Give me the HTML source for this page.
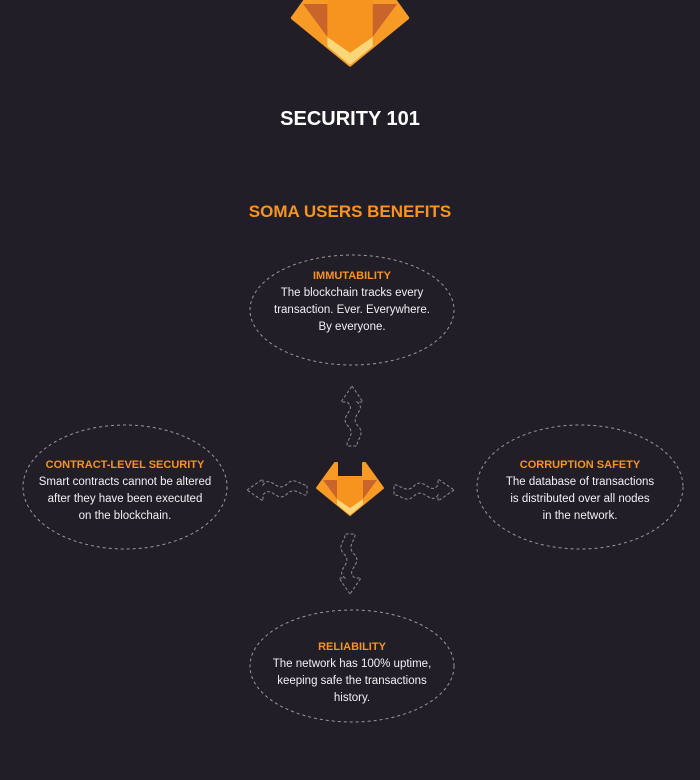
<!DOCTYPE html>
<html><head><meta charset="utf-8"><style>
html,body{margin:0;padding:0;background:#211e27;}
body{width:700px;height:780px;position:relative;overflow:hidden;font-family:"Liberation Sans",sans-serif;}
.t{position:absolute;left:0;width:700px;text-align:center;font-weight:bold;}
.b{position:absolute;text-align:center;color:#f2f0f3;font-size:11.5px;line-height:17px;}
.b h4{margin:0;color:#f7931e;font-size:11px;font-weight:bold;line-height:17px;}
</style></head><body>
<svg width="700" height="780" style="position:absolute;left:0;top:0">
<defs>
<g id="fox">
<path d="M0,25 L18,0 L20,0 L20,14 L46,14 L46,0 L48,0 L66,25 L33,52 Z" fill="#f89b26" stroke="#f89b26" stroke-width="2" stroke-linejoin="round"/>
<polygon points="6,17 20,17 20,36" fill="#c9652a"/>
<polygon points="60,17 46,17 46,36" fill="#c9652a"/>
<polygon points="20,36 33,45 46,36 46,41.4 33,52 20,41.4" fill="#fbd77a"/>
<polygon points="20,14 46,14 46,36 33,45 20,36" fill="#f7941f"/>
</g>
<path id="arr" d="M0,0 L11,16 L5,16 C16,24 -4,30 6,40 C14,48 4,54 5,60 L-5,60 C-6,54 4,48 -4,40 C-14,30 6,24 -5,16 L-11,16 Z" fill="none" stroke="#8d8a93" stroke-width="1" stroke-dasharray="3 2"/>
</defs>
<use href="#fox" transform="translate(292.6,-25.6) scale(1.74)"/>
<use href="#fox" transform="translate(317,463)"/>
<g fill="none" stroke="#9a97a0" stroke-width="1" stroke-dasharray="3 3">
<ellipse cx="352" cy="310" rx="102" ry="55"/>
<ellipse cx="125" cy="487" rx="102" ry="62"/>
<ellipse cx="580" cy="487" rx="103" ry="62"/>
<ellipse cx="352" cy="666" rx="102" ry="56"/>
</g>
<use href="#arr" transform="translate(352,386)"/>
<use href="#arr" transform="translate(350,594) rotate(180)"/>
<use href="#arr" transform="translate(247,490) rotate(-90)"/>
<use href="#arr" transform="translate(454,490) rotate(90)"/>
</svg>
<div class="t" style="top:108px;color:#fff;font-size:20px;">SECURITY 101</div>
<div class="t" style="top:202px;color:#f7931e;font-size:17px;">SOMA USERS BENEFITS</div>
<div class="b" style="left:252px;width:200px;top:268px;"><h4>IMMUTABILITY</h4>The blockchain tracks every<br>transaction. Ever. Everywhere.<br>By everyone.</div>
<div class="b" style="left:25px;width:200px;top:457px;"><h4>CONTRACT-LEVEL SECURITY</h4>Smart contracts cannot be altered<br>after they have been executed<br>on the blockchain.</div>
<div class="b" style="left:480px;width:200px;top:457px;"><h4>CORRUPTION SAFETY</h4>The database of transactions<br>is distributed over all nodes<br>in the network.</div>
<div class="b" style="left:252px;width:200px;top:639px;"><h4>RELIABILITY</h4>The network has 100% uptime,<br>keeping safe the transactions<br>history.</div>
</body></html>
